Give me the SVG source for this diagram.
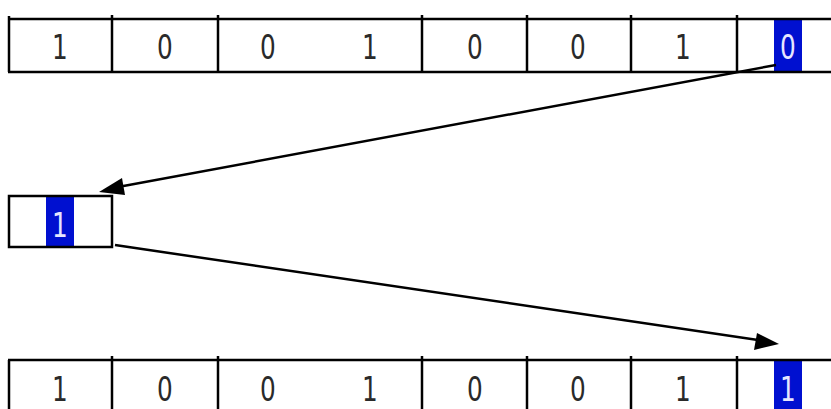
<svg xmlns="http://www.w3.org/2000/svg" width="831" height="409" viewBox="0 0 831 409">
<style>
.ln{stroke:#000;stroke-width:2.5;fill:none}
.d{font-family:"DejaVu Sans",sans-serif;font-size:33px;fill:#2a2a2a;text-anchor:middle}
.w{fill:#e6e6ff}
.hl{fill:#0010d0}
.c{stroke:#000;stroke-width:2.5;fill:none}
</style>
<rect width="831" height="409" fill="#fff"/>
<g id="row-top">
<rect class="hl" x="774" y="19" width="28" height="53"/>
<line class="ln" x1="8" y1="19" x2="831" y2="19"/>
<line class="ln" x1="8" y1="72" x2="831" y2="72"/>
<line class="ln" x1="9" y1="16" x2="9" y2="72"/>
<line class="ln" x1="112" y1="15" x2="112" y2="72"/>
<line class="ln" x1="218" y1="15" x2="218" y2="72"/>
<line class="ln" x1="422" y1="15" x2="422" y2="72"/>
<line class="ln" x1="527" y1="15" x2="527" y2="72"/>
<line class="ln" x1="631" y1="15" x2="631" y2="72"/>
<line class="ln" x1="737" y1="15" x2="737" y2="72"/>
<text class="d" transform="translate(60,59) scale(0.75,1)">1</text>
<text class="d" transform="translate(165,59) scale(0.75,1)">0</text>
<text class="d" transform="translate(268,59) scale(0.75,1)">0</text>
<text class="d" transform="translate(370,59) scale(0.75,1)">1</text>
<text class="d" transform="translate(475,59) scale(0.75,1)">0</text>
<text class="d" transform="translate(578,59) scale(0.75,1)">0</text>
<text class="d" transform="translate(683,59) scale(0.75,1)">1</text>
<text class="d w" transform="translate(788,59) scale(0.75,1)">0</text>
</g>
<g id="temp">
<rect class="hl" x="46" y="196" width="28" height="51"/>
<rect class="ln" x="9" y="196" width="103" height="51"/>
<text class="d w" transform="translate(60,237) scale(0.75,1)">1</text>
</g>
<g id="row-bottom">
<rect class="hl" x="774" y="360" width="28" height="49"/>
<line class="ln" x1="8" y1="360" x2="831" y2="360"/>
<line class="ln" x1="9" y1="360" x2="9" y2="409"/>
<line class="ln" x1="112" y1="356" x2="112" y2="409"/>
<line class="ln" x1="218" y1="356" x2="218" y2="409"/>
<line class="ln" x1="422" y1="356" x2="422" y2="409"/>
<line class="ln" x1="527" y1="356" x2="527" y2="409"/>
<line class="ln" x1="631" y1="356" x2="631" y2="409"/>
<line class="ln" x1="737" y1="356" x2="737" y2="409"/>
<text class="d" transform="translate(60,401) scale(0.75,1)">1</text>
<text class="d" transform="translate(165,401) scale(0.75,1)">0</text>
<text class="d" transform="translate(268,401) scale(0.75,1)">0</text>
<text class="d" transform="translate(370,401) scale(0.75,1)">1</text>
<text class="d" transform="translate(475,401) scale(0.75,1)">0</text>
<text class="d" transform="translate(578,401) scale(0.75,1)">0</text>
<text class="d" transform="translate(683,401) scale(0.75,1)">1</text>
<text class="d w" transform="translate(788,401) scale(0.75,1)">1</text>
</g>
<g id="connectors">
<line class="c" x1="776" y1="65" x2="118" y2="187"/>
<polygon points="99,192 122,178 125,195" fill="#000"/>
<line class="c" x1="115" y1="245" x2="758" y2="340"/>
<polygon points="779,344 757,333 754,350" fill="#000"/>
</g>
</svg>
